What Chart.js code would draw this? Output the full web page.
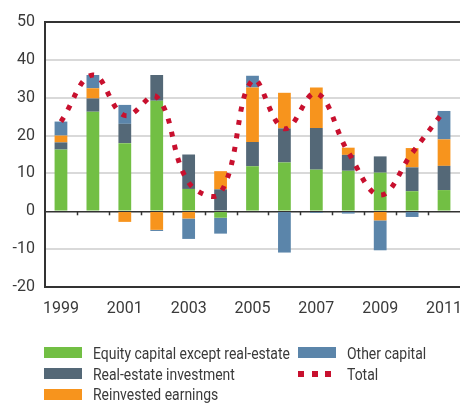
<!DOCTYPE html>
<html><head><meta charset="utf-8">
<script src="https://cdn.jsdelivr.net/npm/chart.js@4.4.1/dist/chart.umd.min.js"></script>
<style>
html,body{margin:0;padding:0;background:#fff;width:460px;height:403px;overflow:hidden;}
#wrap{position:absolute;left:0;top:0;width:460px;height:320px;}
#legend{position:absolute;left:0;top:0;width:460px;height:403px;pointer-events:none;font-family:Roboto,sans-serif;font-size:17px;color:#3a3a3a;}
.sw{position:absolute;}
.lt{position:absolute;white-space:nowrap;line-height:20px;height:20px;transform-origin:0 50%;}
</style>
</head><body>
<div id="wrap"><canvas id="c"></canvas></div>
<div id="legend"></div>
<script>
const years = ['1999','2000','2001','2002','2003','2004','2005','2006','2007','2008','2009','2010','2011'];
const equity       = [16.3, 26.3, 18.0, 29.2,  5.9, -1.7, 11.9,  12.9, 11.0, 10.7, 10.2,  5.3, 5.6];
const realEstate   = [ 1.9,  3.5,  5.1,  6.8,  9.1,  5.8,  6.4,   9.0, 11.0,  4.2,  4.3,  6.3, 6.4];
const reinvested   = [ 1.8,  2.7, -2.8, -4.9, -1.9,  4.8, 14.4,   9.4, 10.7,  1.9, -2.4,  5.1, 7.0];
const otherCapital = [ 3.7,  3.5,  5.0, -0.3, -5.4, -4.2,  3.1, -10.9, -0.4, -0.6, -7.9, -1.5, 7.5];
const total        = [23.7, 36.0, 25.3, 30.2,  7.6,  4.9, 34.6,  21.8, 31.2, 15.6,  4.3, 15.4, 26.5];
const yTicks = [-20, -10, 0, 10, 20, 30, 40, 50];

const FONT = "Roboto, sans-serif";
const C = {green:'#72bf44', slate:'#546877', orange:'#f7941d', blue:'#5b85aa', red:'#c8102e'};

Chart.defaults.font.family = FONT;
Chart.defaults.font.size = 16;
Chart.defaults.color = '#3a3a3a';

const zeroTicks = {
  id:'zeroTicks',
  afterDraw(chart){
    const x = chart.scales.x, y = chart.scales.y, ctx = chart.ctx;
    const y0 = y.getPixelForValue(0);
    ctx.save();
    ctx.strokeStyle = '#333'; ctx.lineWidth = 1.5;
    for (let i = 0; i < years.length - 1; i++) {
      const px = Math.round((x.getPixelForValue(i) + x.getPixelForValue(i+1)) / 2) + 0.5;
      ctx.beginPath(); ctx.moveTo(px, y0); ctx.lineTo(px, y0 + 4); ctx.stroke();
    }
    ctx.restore();
  }
};

const barDs = (label, data, color) => ({type:'bar', label, data, backgroundColor:color, borderWidth:0,
  categoryPercentage:1, barPercentage:0.4, order:2});

const chart = new Chart(document.getElementById('c'), {
  data: {
    labels: years,
    datasets: [
      barDs('Equity capital except real-estate', equity, C.green),
      barDs('Real-estate investment', realEstate, C.slate),
      barDs('Reinvested earnings', reinvested, C.orange),
      barDs('Other capital', otherCapital, C.blue),
      {type:'line', label:'Total', data: total, stack:'line', borderColor:C.red, borderWidth:5,
       borderDash:[5,8.5], borderCapStyle:'butt', pointRadius:0, tension:0.4, fill:false, order:1}
    ]
  },
  options: {
    responsive:true, maintainAspectRatio:false, animation:false,
    layout:{padding:{top:22, right:0, left:0, bottom:0}},
    plugins:{legend:{display:false}, tooltip:{enabled:false}},
    scales:{
      x:{stacked:true, offset:true,
        grid:{display:false},
        border:{display:true, color:'#333', width:2},
        ticks:{autoSkip:false, maxRotation:0, padding:4, color:'#3a3a3a',
          callback:(v,i)=> i % 2 === 0 ? years[i] : ''},
        afterFit:(s)=>{ s.height = 33; s.paddingLeft = 0; s.paddingRight = 0; }
      },
      y:{stacked:true, min:yTicks[0], max:yTicks[yTicks.length-1],
        afterBuildTicks:(s)=>{ s.ticks = yTicks.map(v=>({value:v})); },
        ticks:{padding:10, color:'#3a3a3a', callback:(v)=> String(v)},
        grid:{drawTicks:false,
          color:(ctx)=>{ const v = ctx.tick && ctx.tick.value; return (v===0||v===50||v===-20)?'#333':'#d9d9d9'; },
          lineWidth:(ctx)=>{ const v = ctx.tick && ctx.tick.value; return v===0?1.5:2; }},
        border:{display:true, color:'#333', width:2},
        afterFit:(s)=>{ s.width = 45; s.paddingTop = 0; s.paddingBottom = 0; }
      }
    }
  },
  plugins:[zeroTicks]
});

// HTML legend built from the chart's datasets
const leg = document.getElementById('legend');
const ds = chart.data.datasets;
const place = [
  {i:0, sx:44, tx:93, cy:352.5},
  {i:1, sx:44, tx:93, cy:373.5},
  {i:2, sx:44, tx:93, cy:394},
  {i:3, sx:298, tx:347, cy:352.5},
  {i:4, sx:298, tx:347, cy:373.5}
];
// condensed look: horizontal squeeze so the longest label spans ~197px as in the reference
const mctx = document.createElement('canvas').getContext('2d');
mctx.font = '17px Roboto';
const squeeze = 197 / mctx.measureText(ds[0].label).width;
place.forEach(p=>{
  const d = ds[p.i];
  if (d.type === 'bar') {
    const s = document.createElement('div'); s.className='sw';
    s.style.cssText = `left:${p.sx}px;top:${p.cy-5.5}px;width:38px;height:11px;background:${d.backgroundColor};`;
    leg.appendChild(s);
  } else {
    for (let k=0;k<3;k++){
      const s = document.createElement('div'); s.className='sw';
      s.style.cssText = `left:${p.sx + k*13.5}px;top:${p.cy-3}px;width:6px;height:6px;background:${d.borderColor};`;
      leg.appendChild(s);
    }
  }
  const t = document.createElement('div'); t.className='lt';
  t.style.left = p.tx+'px'; t.style.top = (p.cy-10)+'px';
  t.style.transform = `scaleX(${squeeze.toFixed(3)})`;
  t.textContent = d.label;
  leg.appendChild(t);
});
</script>
</body></html>
